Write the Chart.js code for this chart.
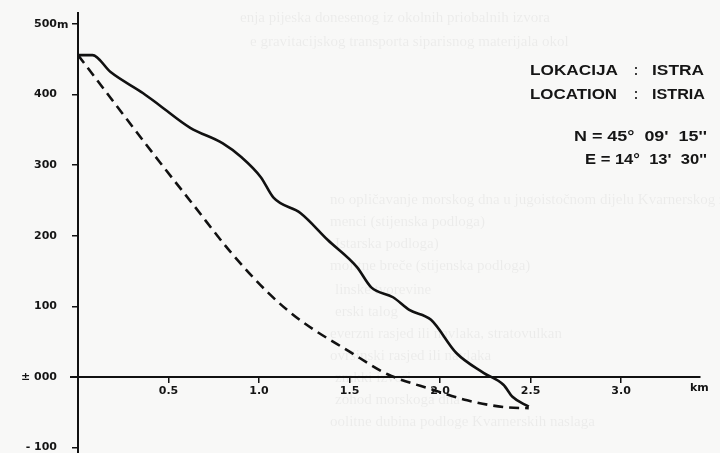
<!DOCTYPE html>
<html>
<head>
<meta charset="utf-8">
<script src="https://cdn.jsdelivr.net/npm/chart.js@4/dist/chart.umd.min.js"></script>
<style>
  body { margin: 0; background: #f8f8f7; }
  #wrap { width: 720px; height: 453px; position: relative; }
</style>
</head>
<body>
<div id="wrap"><canvas id="profileChart"></canvas></div>
<script>
// profile data (km, m)
const solidKm = [0, 0.08, 0.18, 0.36, 0.45, 0.62, 0.80, 0.90, 1.01, 1.08, 1.23, 1.38, 1.54, 1.62, 1.74, 1.83, 1.95, 2.09, 2.24, 2.35, 2.40, 2.49];
const solidM = [456, 456, 432, 402, 385, 353, 331, 312, 283, 254, 232, 194, 156, 127, 113, 95, 81, 34, 6, -11, -28, -42];

const dashKm = [0, 0.27, 0.45, 0.64, 0.84, 1.06, 1.23, 1.50, 1.71, 1.96, 2.15, 2.37, 2.49];
const dashM = [456, 365, 305, 243, 178, 117, 80, 36, 4, -18, -33, -43, -44];

const yTicks = [500, 400, 300, 200, 100, 0, -100];
const yLabels = ['500', '400', '300', '200', '100', '\u00b1 000', '- 100'];
const xTicks = [0.5, 1.0, 1.5, 2.0, 2.5, 3.0];
const xLabels = ['0.5', '1.0', '1.5', '2.0', '2.5', '3.0'];

// [text, x, y, width]
const infoLines = [
    ['LOKACIJA', 530, 71, 88], [':', 634, 71, 4], ['ISTRA', 652, 71, 52],
    ['LOCATION', 530, 95, 87], [':', 634, 95, 4], ['ISTRIA', 652, 95, 53],
    ['N = 45\u00b0  09\'  15\'\'', 574, 137, 133],
    ['E = 14\u00b0  13\'  30\'\'', 585, 160, 122]
];

// faint text showing through from the other side of the page
const ghostLines = [
    [240, 18, 'enja pijeska donesenog iz okolnih priobalnih izvora'],
    [250, 42, 'e gravitacijskog transporta siparisnog materijala okol'],
    [330, 200, 'no opli\u010davanje morskog dna u jugoisto\u010dnom dijelu Kvarnerskog zaljeva'],
    [330, 222, 'menci (stijenska podloga)'],
    [335, 244, 'Istarska podloga)'],
    [330, 266, 'molitne bre\u010de (stijenska podloga)'],
    [335, 290, 'linske tvorevine'],
    [335, 312, 'erski talog'],
    [330, 334, 'everzni rasjed ili navlaka, stratovulkan'],
    [330, 356, 'ovr\u0161inski rasjed ili navlaka'],
    [335, 378, 'zmkki izvori'],
    [335, 400, 'zohod morskoga dna'],
    [330, 422, 'oolitne dubina podloge Kvarnerskih naslaga']
];

const pairs = (xs, ys) => xs.map((x, i) => ({ x: x, y: ys[i] }));
const tickFont = { family: '"DejaVu Sans", sans-serif', size: 11, weight: 'bold' };

function fitText(c, text, x, y, w) {
    const m = c.measureText(text).width;
    c.save();
    c.translate(x, y);
    c.scale(w / m, 1);
    c.fillText(text, 0, 0);
    c.restore();
}

const textPlugin = {
    id: 'texts',
    beforeDraw(chart) {
        const c = chart.ctx;
        c.save();
        c.fillStyle = '#f8f8f7';
        c.fillRect(0, 0, chart.width, chart.height);
        c.fillStyle = 'rgba(0,0,0,0.05)';
        c.font = '15px "Liberation Serif", "DejaVu Serif", serif';
        c.textBaseline = 'middle';
        ghostLines.forEach(g => c.fillText(g[2], g[0], g[1]));
        c.restore();
    },
    afterDraw(chart) {
        const c = chart.ctx;
        const xs = chart.scales.x, ys = chart.scales.y;
        const y0 = ys.getPixelForValue(0);
        c.save();
        // axis line runs a bit left of the vertical axis
        c.strokeStyle = '#111';
        c.lineWidth = 2;
        c.beginPath();
        c.moveTo(70, y0);
        c.lineTo(xs.left, y0);
        c.stroke();

        c.fillStyle = '#151515';
        c.textBaseline = 'middle';
        c.font = 'bold 11px "DejaVu Sans", sans-serif';
        c.fillText('m', 57, ys.getPixelForValue(500) + 1);
        c.fillText('km', 690, y0 + 11);

        c.font = 'bold 14px "Liberation Sans", Arial, sans-serif';
        infoLines.forEach(l => fitText(c, l[0], l[1], l[2], l[3]));
        c.restore();
    }
};

new Chart(document.getElementById('profileChart'), {
    type: 'line',
    data: {
        datasets: [{
            label: 'profil',
            data: pairs(solidKm, solidM),
            borderColor: '#111',
            borderWidth: 2.6,
            cubicInterpolationMode: 'monotone',
            pointRadius: 0,
            fill: false
        }, {
            label: 'ravnote\u017eni profil',
            data: pairs(dashKm, dashM),
            borderColor: '#111',
            borderWidth: 2.6,
            borderDash: [10, 6],
            cubicInterpolationMode: 'monotone',
            pointRadius: 0,
            fill: false
        }]
    },
    options: {
        responsive: true,
        maintainAspectRatio: false,
        animation: false,
        layout: { autoPadding: false, padding: { top: 13, right: 20, left: 0, bottom: 0 } },
        plugins: {
            legend: { display: false },
            tooltip: { enabled: false }
        },
        scales: {
            x: {
                type: 'linear',
                position: { y: 0 },
                min: 0,
                max: 3.436,
                afterBuildTicks: s => { s.ticks = xTicks.map(v => ({ value: v })); },
                afterFit: s => { s.height = 0; },
                ticks: {
                    callback: (v, i) => xLabels[i],
                    color: '#151515',
                    font: tickFont,
                    padding: 3,
                    maxRotation: 0
                },
                grid: { drawOnChartArea: false, tickLength: 5, color: '#111', lineWidth: 1.5 },
                border: { color: '#111', width: 2 }
            },
            y: {
                min: -107.6,
                max: 515.6,
                afterBuildTicks: s => { s.ticks = yTicks.map(v => ({ value: v })); },
                afterFit: s => { s.width = 78; s.paddingTop = 0; s.paddingBottom = 0; },
                ticks: {
                    callback: (v, i) => yLabels[i],
                    color: '#151515',
                    font: tickFont,
                    padding: 15
                },
                grid: { drawOnChartArea: false, tickLength: 6, color: '#111', lineWidth: 1.5 },
                border: { color: '#111', width: 2 }
            }
        }
    },
    plugins: [textPlugin]
});
</script>
</body>
</html>
